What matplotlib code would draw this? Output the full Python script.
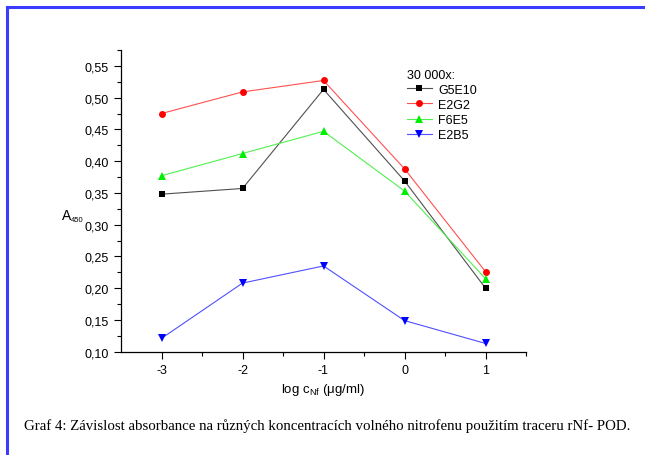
import matplotlib
matplotlib.use("Agg")
import matplotlib.pyplot as plt
from matplotlib.ticker import FuncFormatter, MultipleLocator, FixedLocator
from matplotlib.lines import Line2D

x = [-3, -2, -1, 0, 1]
names = ["G5E10", "E2G2", "F6E5", "E2B5"]
g5e10 = [0.348, 0.357, 0.513, 0.369, 0.200]
e2g2 = [0.475, 0.509, 0.527, 0.388, 0.226]
f6e5 = [0.377, 0.412, 0.447, 0.353, 0.215]
e2b5 = [0.121, 0.208, 0.235, 0.149, 0.113]
series = [g5e10, e2g2, f6e5, e2b5]
colors = ["#000000", "#ff0000", "#00ee00", "#0000ff"]
line_colors = ["#505050", "#ff5050", "#50f050", "#5050ff"]
markers = ["s", "o", "^", "v"]
msizes = [4.2, 5, 5.5, 5.5]

plt.rcParams['font.family'] = ['Liberation Sans', 'DejaVu Sans']

fig = plt.figure(figsize=(6.45, 4.56), dpi=100)
ax = fig.add_axes([121/645, 1-352.7/456, (526-121)/645, (352.7-51)/456])

for ys, c, lc, m, ms, n in zip(series, colors, line_colors, markers, msizes, names):
    ax.plot(x, ys, color=lc, lw=0.8, marker=m, markersize=ms,
            markerfacecolor=c, markeredgewidth=0, label=n)

ax.set_xlim(-3.5, 1.5)
ax.set_ylim(0.10, 0.575)
ax.xaxis.set_major_locator(FixedLocator(x))
ax.xaxis.set_minor_locator(FixedLocator([-2.5, -1.5, -0.5, 0.5, 1.5]))
ax.yaxis.set_major_locator(MultipleLocator(0.05))
ax.yaxis.set_minor_locator(MultipleLocator(0.025))
ax.yaxis.set_major_formatter(FuncFormatter(lambda v, p: f"{v:.2f}".replace('.', ',')))
ax.xaxis.set_major_formatter(FuncFormatter(lambda v, p: f"{int(round(v))}"))
for s in ['top', 'right']:
    ax.spines[s].set_visible(False)
for s in ['left', 'bottom']:
    ax.spines[s].set_linewidth(0.9)
ax.tick_params(which='major', direction='out', length=5, width=0.8, labelsize=9, pad=4)
ax.tick_params(which='minor', direction='out', length=3, width=0.8)

# legend
leg = ax.legend(title="30 000x:", loc='upper left', bbox_to_anchor=(0.693, 0.955),
                frameon=False, fontsize=9, title_fontsize=9, handlelength=2.0,
                handletextpad=0.5, labelspacing=0.25, borderaxespad=0)
leg._legend_box.align = "left"

fig.text(62/645, 1-216/456, "A", fontsize=10, va='center', ha='left')
fig.text(71/645, 1-221/456, "450", fontsize=5.5, va='center', ha='left')
fig.text(323/645, 1-390/456, r"log c$_{\mathregular{Nf}}$ ($\mathregular{\mu}$g/ml)", fontsize=9.5,
         va='center', ha='center')

fig.text(24/645, 1-426/456,
         "Graf 4: Závislost absorbance na různých koncentracích volného nitrofenu použitím traceru rNf- POD.",
         family=['Liberation Serif', 'DejaVu Serif'], fontsize=10.7, va='center', ha='left')

# blue frame
blue = "#3b3bff"
fig.add_artist(Line2D([7/645, 1], [1-8/456, 1-8/456], color=blue, lw=2.2, transform=fig.transFigure))
fig.add_artist(Line2D([7/645, 7/645], [0, 1-8/456], color=blue, lw=2.2, transform=fig.transFigure))

fig.savefig("out.png", dpi=100)
